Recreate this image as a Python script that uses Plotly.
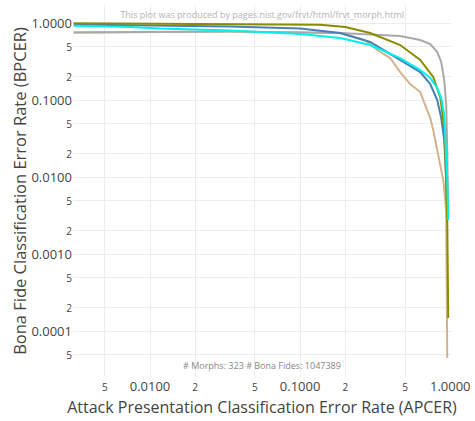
import plotly.graph_objects as go

# DET curves: APCER (x) vs BPCER (y)
tan_x = [0.0031, 0.0341, 0.1, 0.185, 0.271, 0.326, 0.398, 0.464, 0.541, 0.631, 0.681, 0.736, 0.770, 0.832, 0.898, 0.926, 0.940, 0.955]
tan_y = [0.753, 0.776, 0.753, 0.742, 0.601, 0.446, 0.351, 0.231, 0.161, 0.127, 0.0861, 0.0583, 0.0408, 0.0193, 0.00914, 0.00503, 0.00321, 0.0000446]

gray_x = [0.0031, 0.0341, 0.185, 0.464, 0.631, 0.736, 0.819, 0.871, 0.912, 0.940, 0.955, 0.970]
gray_y = [0.753, 0.776, 0.742, 0.678, 0.601, 0.534, 0.420, 0.312, 0.182, 0.0861, 0.0224, 0.00321]

blue_x = [0.0031, 0.0341, 0.1, 0.185, 0.293, 0.464, 0.631, 0.736, 0.819, 0.871, 0.912, 0.940, 0.955]
blue_y = [0.956, 0.901, 0.848, 0.742, 0.567, 0.331, 0.231, 0.161, 0.1, 0.0583, 0.0303, 0.00914, 0.00321]

olive_x = [0.0031, 0.0341, 0.136, 0.2, 0.293, 0.464, 0.631, 0.770, 0.858, 0.898, 0.926, 0.955, 0.970]
olive_y = [0.99, 0.971, 0.95, 0.888, 0.742, 0.518, 0.331, 0.199, 0.109, 0.0550, 0.0224, 0.00277, 0.000148]

cyan_x = [0.0031, 0.00736, 0.01166, 0.0341, 0.1, 0.185, 0.293, 0.464, 0.631, 0.736, 0.819, 0.871, 0.912, 0.940, 0.955, 0.970]
cyan_y = [0.923, 0.888, 0.848, 0.799, 0.719, 0.638, 0.518, 0.351, 0.245, 0.193, 0.143, 0.106, 0.0638, 0.0224, 0.00914, 0.00277]

series = [
    ("tan", tan_x, tan_y, "#d2b48c"),
    ("gray", gray_x, gray_y, "#a9a9a9"),
    ("steelblue", blue_x, blue_y, "#4a7fb4"),
    ("olive", olive_x, olive_y, "#8a8c00"),
    ("cyan", cyan_x, cyan_y, "#00f0f0"),
]

x_tickvals = [0.005, 0.01, 0.02, 0.05, 0.1, 0.2, 0.5, 1.0]
x_ticktext = ["5", "0.0100", "2", "5", "0.1000", "2", "5", "1.0000"]
y_tickvals = [0.00005, 0.0001, 0.0002, 0.0005, 0.001, 0.002, 0.005, 0.01, 0.02, 0.05, 0.1, 0.2, 0.5, 1.0]
y_ticktext = ["5", "0.0001", "2", "5", "0.0010", "2", "5", "0.0100", "2", "5", "0.1000", "2", "5", "1.0000"]


def style_ticks(labels):
    return [t if len(t) > 1 else "<span style='font-size:10px'>%s</span>" % t for t in labels]


fig = go.Figure()
for name, xs, ys, col in series:
    fig.add_trace(go.Scatter(x=xs, y=ys, mode="lines", name=name,
                             line=dict(color=col, width=2), showlegend=False))

font = "Open Sans, verdana, arial, sans-serif"
fig.update_layout(
    width=475, height=421,
    margin=dict(l=73, r=24, t=5, b=44),
    paper_bgcolor="white", plot_bgcolor="white",
    font=dict(family=font, color="#444", size=13),
    showlegend=False,
    title=dict(text="This plot was produced by pages.nist.gov/frvt/html/frvt_morph.html",
               font=dict(size=9, color="#b4b4b4"), x=0.552, xanchor="center",
               y=0.965, yanchor="middle"),
    xaxis=dict(type="log", range=[-2.513, 0.005], tickvals=x_tickvals,
               ticktext=style_ticks(x_ticktext), showgrid=True, gridcolor="#ececec",
               zeroline=False, showline=False, ticks="", automargin=False,
               tickfont=dict(size=13, color="#444"),
               title=dict(text="Attack Presentation Classification Error Rate (APCER)",
                          font=dict(size=16, color="#444"), standoff=7)),
    yaxis=dict(type="log", range=[-4.597, 0.234], tickvals=y_tickvals,
               ticktext=style_ticks(y_ticktext), showgrid=True, gridcolor="#ececec",
               zeroline=False, showline=False, ticks="", automargin=False,
               tickfont=dict(size=13, color="#444"),
               title=dict(text="Bona Fide Classification Error Rate (BPCER)",
                          font=dict(size=16.5, color="#444"), standoff=0)),
    annotations=[dict(text="# Morphs: 323 # Bona Fides: 1047389", xref="paper", yref="paper",
                      x=0.5, y=0.008, yanchor="bottom", showarrow=False,
                      font=dict(size=9, color="#888"))],
)

fig.write_html("out.html", config={"displayModeBar": False},
               post_script="document.body.style.margin='0';")
